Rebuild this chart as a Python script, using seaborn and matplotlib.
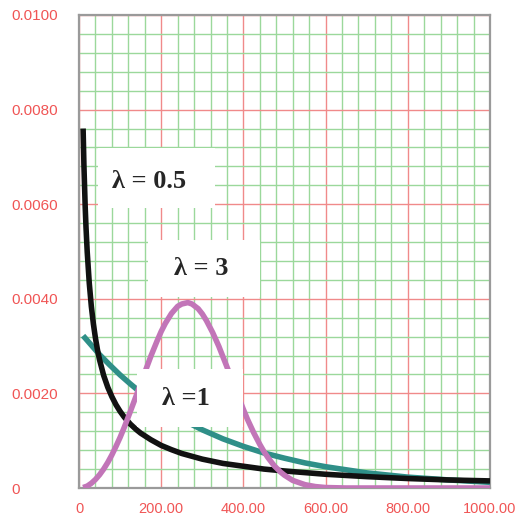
import numpy as np
import pandas as pd
import matplotlib
matplotlib.use("Agg")
import matplotlib.pyplot as plt
from matplotlib.patches import Rectangle
from matplotlib.ticker import MultipleLocator, FixedLocator
import seaborn as sns

# ---- data ----
x_half = [10, 12, 15, 17, 20, 25, 30, 35, 40, 45, 50, 60, 70, 80, 90, 100, 110, 125,
          140, 150, 175, 200, 225, 250, 300, 350, 400, 450, 500, 600, 700, 800, 900,
          1000]
y_half = [0.00760, 0.00682, 0.00596, 0.00552, 0.00499, 0.00433, 0.00384, 0.00347,
          0.00317, 0.00292, 0.00271, 0.00238, 0.00213, 0.00193, 0.00176, 0.00162,
          0.00150, 0.00135, 0.00123, 0.00116, 0.00102, 0.00090, 0.00081, 0.00073,
          0.00061, 0.00052, 0.00046, 0.00040, 0.00036, 0.00029, 0.00024, 0.00020,
          0.00017, 0.00015]

x_one = [10, 25, 50, 75, 100, 125, 150, 175, 200, 250, 300, 350, 400, 450, 500, 550,
         600, 700, 800, 900, 1000]
y_one = [0.00322, 0.00307, 0.00282, 0.00260, 0.00239, 0.00220, 0.00202, 0.00186,
         0.00171, 0.00145, 0.00123, 0.00104, 0.00088, 0.00074, 0.00063, 0.00053,
         0.00045, 0.00032, 0.00023, 0.00017, 0.00012]

x_three = [10, 20, 30, 40, 50, 60, 70, 80, 90, 100, 110, 125, 140, 150, 160, 175, 190,
           200, 210, 225, 240, 250, 265, 275, 290, 300, 310, 325, 340, 350, 360, 375,
           390, 400, 410, 425, 440, 450, 460, 475, 490, 500, 520, 550, 575, 600, 650,
           700, 800, 900, 1000]
y_three = [0.00001, 0.00004, 0.00010, 0.00018, 0.00028, 0.00040, 0.00054, 0.00070,
           0.00088, 0.00107, 0.00128, 0.00162, 0.00197, 0.00221, 0.00244, 0.00279,
           0.00311, 0.00331, 0.00348, 0.00369, 0.00384, 0.00389, 0.00392, 0.00389,
           0.00379, 0.00368, 0.00354, 0.00329, 0.00300, 0.00278, 0.00256, 0.00222,
           0.00188, 0.00166, 0.00145, 0.00117, 0.00092, 0.00077, 0.00064, 0.00047,
           0.00034, 0.00027, 0.00016, 0.00007, 0.00003, 0.00001, 0.0, 0.0, 0.0,
           0.0, 0.0]

x_ticks = [0, 200, 400, 600, 800, 1000]
x_tick_labels = ["0", "200.00", "400.00", "600.00", "800.00", "1000.00"]
y_ticks = [0, 0.002, 0.004, 0.006, 0.008, 0.010]
y_tick_labels = ["0", "0.0020", "0.0040", "0.0060", "0.0080", "0.0100"]

labels = ["λ = 0.5", "λ = 3", "λ =1"]

# ---- style ----
sns.set_style("white")
plt.rcParams["font.family"] = ["Liberation Sans", "DejaVu Sans"]

fig = plt.figure(figsize=(5.16, 5.18), dpi=100)
ax = fig.add_axes([79 / 516, 30 / 518, 411 / 516, 473 / 518])

RED = "#f05555"
GRID_RED = "#f08a8a"
GRID_GREEN = "#9bd89b"
SPINE = "#9a9a9a"

ax.set_xlim(0, 1000)
ax.set_ylim(0, 0.0100)
ax.xaxis.set_major_locator(FixedLocator(x_ticks))
ax.yaxis.set_major_locator(FixedLocator(y_ticks))
ax.xaxis.set_minor_locator(MultipleLocator(40))
ax.yaxis.set_minor_locator(MultipleLocator(0.0004))
ax.set_xticklabels(x_tick_labels)
ax.set_yticklabels(y_tick_labels)

ax.grid(which="minor", color=GRID_GREEN, lw=1.0, zorder=0)
ax.grid(which="major", color=GRID_RED, lw=1.0, zorder=0)
ax.set_axisbelow(True)

for s in ax.spines.values():
    s.set_color(SPINE)
    s.set_linewidth(1.6)

ax.tick_params(axis="both", which="major", direction="out", length=5,
               color=SPINE, width=1.0, labelcolor=RED)
ax.tick_params(axis="both", which="minor", length=0)
ax.tick_params(axis="y", which="major", pad=44, labelsize=11)
ax.tick_params(axis="x", which="major", pad=5, labelsize=10.5)
for lab in ax.get_yticklabels():
    lab.set_horizontalalignment("left")

# ---- curves ----
df1 = pd.DataFrame({"x": x_one, "y": y_one})
df05 = pd.DataFrame({"x": x_half, "y": y_half})
df3 = pd.DataFrame({"x": x_three, "y": y_three})

kw = dict(lw=4.0, solid_capstyle="butt", solid_joinstyle="round", sort=False,
          estimator=None)
sns.lineplot(data=df1, x="x", y="y", color="#2f8f88", ax=ax, zorder=3, **kw)
sns.lineplot(data=df05, x="x", y="y", color="#111111", ax=ax, zorder=4, **kw)
sns.lineplot(data=df3, x="x", y="y", color="#c275b8", ax=ax, zorder=5, **kw)

ax.set_xlabel("")
ax.set_ylabel("")

# ---- white label boxes ----
boxes = [
    ((46, 0.00592), 285, 0.00127, (171, 0.00649)),
    ((168, 0.00404), 272, 0.00120, (297, 0.00465)),
    ((141, 0.00129), 258, 0.00123, (260, 0.00190)),
]
for (xy, w, h, txy), lab in zip(boxes, labels):
    ax.add_patch(Rectangle(xy, w, h, facecolor="white", edgecolor="none",
                           zorder=10))
    ax.text(txy[0], txy[1], lab, ha="center", va="center", zorder=11,
            fontsize=19, fontweight="bold",
            family=["Liberation Serif", "DejaVu Serif"])

fig.savefig("out.png", dpi=100)
